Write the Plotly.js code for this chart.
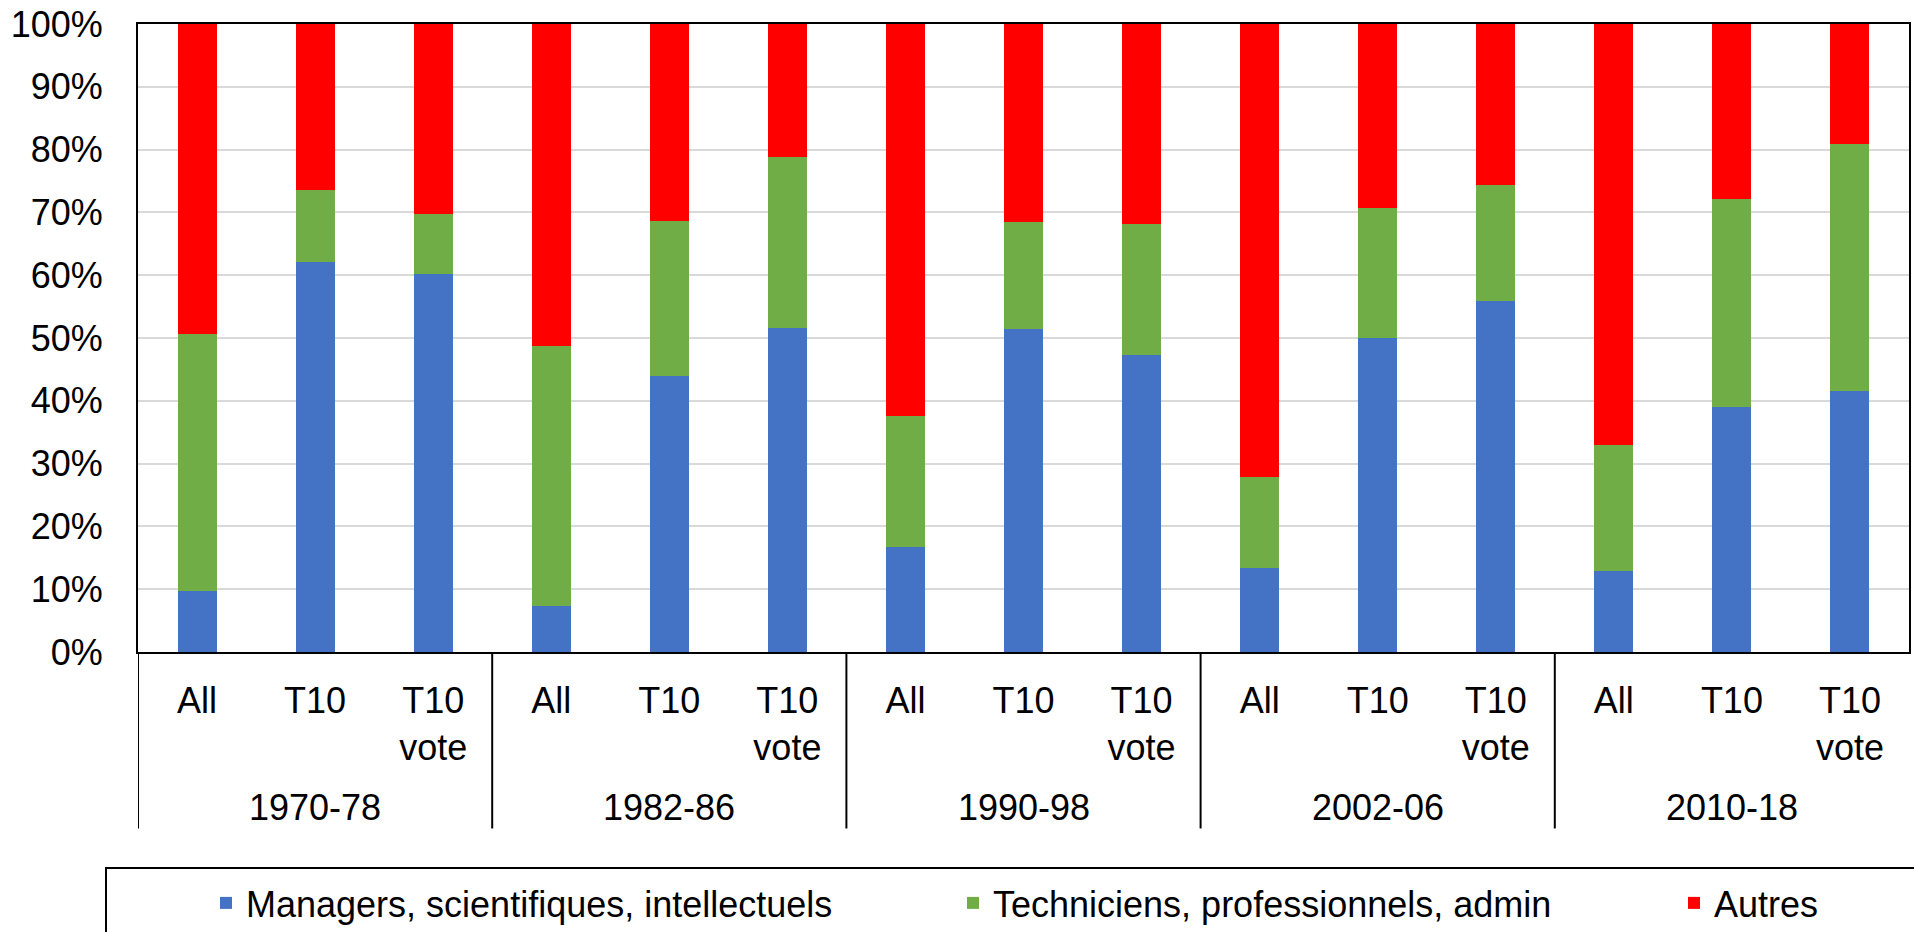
<!DOCTYPE html>
<html>
<head>
<meta charset="utf-8">
<script src="https://cdn.plot.ly/plotly-3.0.1.min.js"></script>
<style>html,body{margin:0;padding:0;background:#fff;overflow:hidden}#chart{width:1914px;height:932px}</style>
</head>
<body>
<div id="chart"></div>
<script>
// Categories
const periods = ['1970-78', '1982-86', '1990-98', '2002-06', '2010-18'];
const groupTypes = ['All', 'T10', 'T10<br>vote'];

// Series values (% of each group)
const managers = [9.7, 62.1, 60.2, 7.3, 44.0, 51.6, 16.8, 51.4, 47.3, 13.4, 50.0, 55.9, 12.9, 39.0, 41.5];
const techniciens = [40.9, 11.4, 9.6, 41.5, 24.7, 27.2, 20.8, 17.1, 20.8, 14.4, 20.7, 18.5, 20.0, 33.1, 39.4];
const autres = [49.4, 26.5, 30.2, 51.2, 31.3, 21.2, 62.4, 31.5, 31.9, 72.2, 29.3, 25.6, 67.1, 27.9, 19.1];

const seriesNames = ['Managers, scientifiques, intellectuels', 'Techniciens, professionnels, admin', 'Autres'];
const seriesColors = ['#4472C4', '#70AD47', '#FF0000'];

// Y ticks
const yTickVals = [0, 10, 20, 30, 40, 50, 60, 70, 80, 90, 100];
const yTickText = yTickVals.map(v => v + '%');

// Build unique category keys (period|type) and their visible labels
const catKeys = [], catLabels = [];
periods.forEach(p => groupTypes.forEach(t => { catKeys.push(p + '|' + t); catLabels.push(t); }));

const FONT = 'Liberation Sans, Arial, sans-serif';
const legendWidths = [702, 676, 110];

const traces = [managers, techniciens, autres].map((vals, i) => ({
  type: 'bar',
  name: seriesNames[i],
  x: catKeys,
  y: vals,
  marker: {color: seriesColors[i], line: {width: 0}},
  legendwidth: legendWidths[i],
  hoverinfo: 'name+y'
}));

// Group labels (annotations at the middle category of each group) and group dividers
const nT = groupTypes.length;
const groupAnnotations = periods.map((p, g) => ({
  xref: 'x', yref: 'paper',
  x: catKeys[g * nT + Math.floor(nT / 2)],
  y: -0.2474, yanchor: 'middle', xanchor: 'center',
  text: p, showarrow: false,
  font: {family: FONT, size: 36, color: '#000000'}
}));
const dividerShapes = periods.map((p, g) => ({
  type: 'line', xref: 'x', yref: 'paper',
  x0: g * nT - 0.5, x1: g * nT - 0.5,
  y0: 0, y1: -0.281,
  line: {color: '#000000', width: 2}
}));

const layout = {
  width: 1914,
  height: 932,
  margin: {l: 138, r: 5, t: 24, b: 280},
  paper_bgcolor: '#ffffff',
  plot_bgcolor: '#ffffff',
  barmode: 'stack',
  bargap: 0.67,
  font: {family: FONT, size: 36, color: '#000000'},
  showlegend: true,
  legend: {
    orientation: 'h',
    xref: 'container', yref: 'container',
    x: 206 / 1914, xanchor: 'left',
    y: 1 - 873 / 932, yanchor: 'top',
    font: {family: FONT, size: 36, color: '#000000'},
    bgcolor: 'rgba(0,0,0,0)',
    borderwidth: 0,
    traceorder: 'normal'
  },
  xaxis: {
    type: 'category',
    range: [-0.5, catKeys.length - 0.5],
    tickmode: 'array',
    tickvals: catKeys,
    ticktext: catLabels,
    showgrid: false,
    showline: true,
    linecolor: '#000000',
    linewidth: 2,
    mirror: true,
    ticks: '',
    ticklabelstandoff: 16,
    tickfont: {family: FONT, size: 36, color: '#000000'},
    zeroline: false,
    fixedrange: true
  },
  yaxis: {
    range: [0, 100],
    tickmode: 'array',
    tickvals: yTickVals,
    ticktext: yTickText,
    showgrid: true,
    gridcolor: '#d9d9d9',
    gridwidth: 2,
    showline: true,
    linecolor: '#000000',
    linewidth: 2,
    mirror: true,
    ticks: '',
    ticklabelstandoff: 26,
    tickfont: {family: FONT, size: 36, color: '#000000'},
    zeroline: false,
    fixedrange: true
  },
  annotations: groupAnnotations,
  shapes: dividerShapes.concat([{
    type: 'rect', xref: 'paper', yref: 'paper',
    x0: (106 - 138) / 1771, x1: 1.05,
    y0: -0.6, y1: (652 - 868) / 628,
    line: {color: '#000000', width: 2},
    fillcolor: 'rgba(0,0,0,0)'
  }])
};

Plotly.newPlot('chart', traces, layout, {displayModeBar: false, staticPlot: true});
</script>
</body>
</html>
